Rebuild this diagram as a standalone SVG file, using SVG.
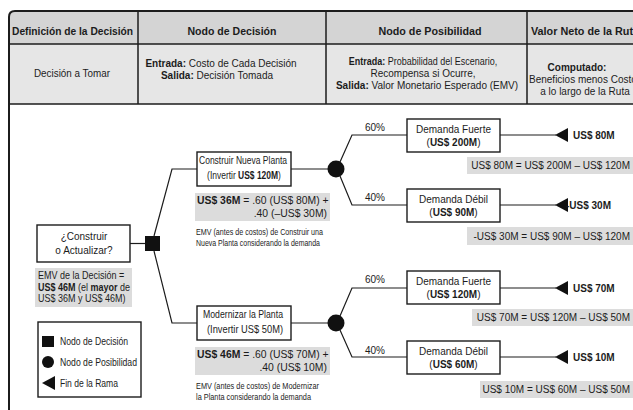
<svg xmlns="http://www.w3.org/2000/svg" width="633" height="410" viewBox="0 0 633 410">
  <style>
    text{font-family:"Liberation Sans",Arial,sans-serif;fill:#1c1c1c;font-size:10px}
    .h{font-size:11px;font-weight:bold;text-anchor:middle}
    .c{text-anchor:middle}
    .e{text-anchor:end}
    .b{font-weight:bold}
    .s{font-size:9.4px}
    .v{font-size:10.4px}
    .n{font-size:10.6px}
    .box{fill:#fff;stroke:#1c1c1c;stroke-width:1.4}
    .val{fill:#dcdcdc}
    .ln{fill:none;stroke:#1c1c1c;stroke-width:1.2}
    .k{fill:#111}
  </style>
  <defs>
    <polygon id="tip" points="0,0 13,-7 13,7" class="k"/>
  </defs>
  <rect width="633" height="410" fill="#fff"/>

  <!-- header table -->
  <g id="table">
    <path d="M9,44 V17 Q9,11 15,11 H633 V44 Z" fill="#d4d4d4"/>
    <rect x="9" y="44" width="624" height="60" fill="#e6e6e6"/>
    <path d="M9,410 V17 Q9,11 15,11 H633" fill="none" stroke="#1c1c1c" stroke-width="2"/>
    <path d="M9,44 H633 M9,104 H633 M138,11 V104 M326,11 V104 M527,11 V104" fill="none" stroke="#1c1c1c" stroke-width="1.5"/>
    <text class="h" x="72.5" y="35" textLength="121" lengthAdjust="spacingAndGlyphs">Definición de la Decisión</text>
    <text class="h" x="232" y="35" textLength="89" lengthAdjust="spacingAndGlyphs">Nodo de Decisión</text>
    <text class="h" x="430" y="35" textLength="103" lengthAdjust="spacingAndGlyphs">Nodo de Posibilidad</text>
    <text class="b" x="531" y="35" font-size="11" textLength="108" lengthAdjust="spacingAndGlyphs">Valor Neto de la Ruta</text>
    <text class="c" x="72" y="77" textLength="76" lengthAdjust="spacingAndGlyphs">Decisión a Tomar</text>
    <text class="c" x="221" y="67" font-size="9.7"><tspan class="b">Entrada:</tspan> Costo de Cada Decisión</text>
    <text class="c" x="217" y="79"><tspan class="b">Salida:</tspan> Decisión Tomada</text>
    <text class="c" transform="translate(423 65) scale(0.9 1)"><tspan class="b">Entrada:</tspan> Probabilidad del Escenario,</text>
    <text class="c" x="423" y="77">Recompensa si Ocurre,</text>
    <text class="c" x="427" y="89"><tspan class="b">Salida:</tspan> Valor Monetario Esperado (EMV)</text>
    <text class="c b" x="577" y="71">Computado:</text>
    <text x="529" y="83">Beneficios menos Costos</text>
    <text class="c" x="585" y="95">a lo largo de la Ruta</text>
  </g>

  <!-- connectors -->
  <g id="connectors" class="ln">
    <path d="M130,243.5 H145"/>
    <path d="M154,236 L172,169 H197"/>
    <path d="M154,251 L172,323 H197"/>
    <path d="M291,169 H330"/>
    <path d="M291,323 H330"/>
    <path d="M340,162 L352,135 H407"/>
    <path d="M340,176 L352,205 H407"/>
    <path d="M340,316 L352,288 H407"/>
    <path d="M340,330 L352,357 H407"/>
    <path d="M500,135 H556"/>
    <path d="M500,205 H556"/>
    <path d="M500,288 H556"/>
    <path d="M500,357 H556"/>
  </g>

  <!-- root decision -->
  <g id="root">
    <rect class="box" x="37" y="225" width="93" height="37"/>
    <text class="c" x="84" y="240">¿Construir</text>
    <text class="c" x="84" y="254">o Actualizar?</text>
    <rect class="val" x="35" y="268" width="97" height="39"/>
    <text font-size="9.8" transform="translate(38 279) scale(0.9 1)">EMV de la Decisión =</text>
    <text font-size="9.8" transform="translate(38 291) scale(0.9 1)"><tspan class="b">US$ 46M</tspan> (el <tspan class="b">mayor</tspan> de</text>
    <text font-size="9.8" transform="translate(38 302) scale(0.9 1)">US$ 36M y US$ 46M)</text>
  </g>

  <g id="decision-node">
    <rect class="k" x="145" y="236" width="15" height="15"/>
  </g>

  <!-- option: new plant -->
  <g id="build">
    <rect class="box" x="197" y="152" width="94" height="34"/>
    <text class="c n" x="243" y="164" textLength="88" lengthAdjust="spacingAndGlyphs">Construir Nueva Planta</text>
    <text class="c n" transform="translate(244 179) scale(0.8 1)">(Invertir <tspan class="b">US$ 120M</tspan>)</text>
    <rect class="val" x="195" y="193" width="135" height="28"/>
    <text class="v" x="197" y="204"><tspan class="b">US$ 36M</tspan> = .60 (US$ 80M) +</text>
    <text class="v e" x="327" y="217">.40 (–US$ 30M)</text>
    <text class="s" x="196" y="235" textLength="127" lengthAdjust="spacingAndGlyphs">EMV (antes de costos) de Construir una</text>
    <text class="s" x="196" y="246" textLength="124" lengthAdjust="spacingAndGlyphs">Nueva Planta considerando la demanda</text>
  </g>

  <!-- option: modernize -->
  <g id="modernize">
    <rect class="box" x="197" y="306" width="94" height="34"/>
    <text class="c n" x="243" y="318" textLength="80" lengthAdjust="spacingAndGlyphs">Modernizar la Planta</text>
    <text class="c n" x="245" y="333" textLength="76" lengthAdjust="spacingAndGlyphs">(Invertir US$ 50M)</text>
    <rect class="val" x="195" y="347" width="135" height="28"/>
    <text class="v" x="197" y="358"><tspan class="b">US$ 46M</tspan> = .60 (US$ 70M) +</text>
    <text class="v e" x="327" y="371">.40 (US$ 10M)</text>
    <text class="s" x="196" y="389" textLength="123" lengthAdjust="spacingAndGlyphs">EMV (antes de costos) de Modernizar</text>
    <text class="s" x="196" y="400" textLength="115" lengthAdjust="spacingAndGlyphs">la Planta considerando la demanda</text>
  </g>

  <g id="chance-build"><circle class="k" cx="336" cy="169" r="8.5"/></g>
  <g id="chance-modernize"><circle class="k" cx="336" cy="323" r="8.5"/></g>

  <!-- outcomes -->
  <g id="build-strong">
    <text class="c" x="375" y="131">60%</text>
    <rect class="box" x="407" y="119" width="93" height="33"/>
    <text class="c" x="453.5" y="133">Demanda Fuerte</text>
    <text class="c" x="453.5" y="146">(<tspan class="b">US$ 200M</tspan>)</text>
    <use href="#tip" x="555" y="135"/>
    <text class="b" x="573" y="139">US$ 80M</text>
    <rect class="val" x="467" y="157" width="166" height="17"/>
    <text class="e" x="630" y="169">US$ 80M = US$ 200M – US$ 120M</text>
  </g>

  <g id="build-weak">
    <text class="c" x="375" y="201">40%</text>
    <rect class="box" x="407" y="189" width="93" height="33"/>
    <text class="c" x="453.5" y="203">Demanda Débil</text>
    <text class="c" x="453.5" y="216">(<tspan class="b">US$ 90M</tspan>)</text>
    <use href="#tip" x="555" y="205"/>
    <text class="b" x="566" y="209">-US$ 30M</text>
    <rect class="val" x="467" y="227" width="166" height="18"/>
    <text class="e" x="630" y="240">-US$ 30M = US$ 90M – US$ 120M</text>
  </g>

  <g id="modernize-strong">
    <text class="c" x="375" y="283">60%</text>
    <rect class="box" x="407" y="271" width="93" height="33"/>
    <text class="c" x="453.5" y="285">Demanda Fuerte</text>
    <text class="c" x="453.5" y="298">(<tspan class="b">US$ 120M</tspan>)</text>
    <use href="#tip" x="555" y="288"/>
    <text class="b" x="573" y="292">US$ 70M</text>
    <rect class="val" x="472" y="309" width="161" height="17"/>
    <text class="e" x="630" y="321">US$ 70M = US$ 120M – US$ 50M</text>
  </g>

  <g id="modernize-weak">
    <text class="c" x="375" y="354">40%</text>
    <rect class="box" x="407" y="341" width="93" height="33"/>
    <text class="c" x="453.5" y="355">Demanda Débil</text>
    <text class="c" x="453.5" y="368">(<tspan class="b">US$ 60M</tspan>)</text>
    <use href="#tip" x="555" y="357"/>
    <text class="b" x="573" y="361">US$ 10M</text>
    <rect class="val" x="480" y="381" width="153" height="17"/>
    <text class="e" x="630" y="393">US$ 10M = US$ 60M – US$ 50M</text>
  </g>

  <!-- legend -->
  <g id="legend">
    <rect class="box" x="38" y="322" width="103" height="75"/>
    <rect class="k" x="42" y="336" width="12" height="11"/>
    <text class="n" x="60" y="345" textLength="68" lengthAdjust="spacingAndGlyphs">Nodo de Decisión</text>
    <circle class="k" cx="48" cy="362" r="6"/>
    <text class="n" x="60" y="366" textLength="77" lengthAdjust="spacingAndGlyphs">Nodo de Posibilidad</text>
    <use href="#tip" x="42" y="383"/>
    <text class="n" x="60" y="387" textLength="58" lengthAdjust="spacingAndGlyphs">Fin de la Rama</text>
  </g>
</svg>
